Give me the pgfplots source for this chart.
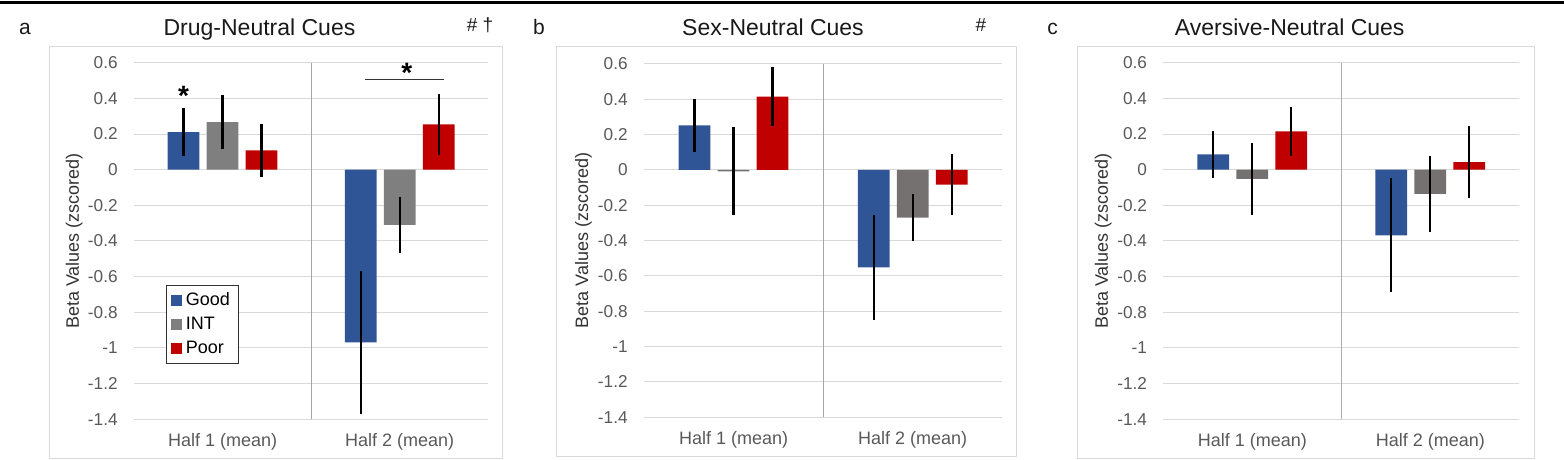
\documentclass[border=0pt]{standalone}
\usepackage{fontspec}
\setmainfont{Liberation Sans}
\usepackage{pgfplots}
\usepackage{pgfplotstable}
\pgfplotsset{compat=1.18}
\definecolor{cGood}{HTML}{2F5597}
\definecolor{cInt}{HTML}{7F7F7F}
\definecolor{cIntB}{HTML}{767171}
\definecolor{cPoor}{HTML}{C00000}
\definecolor{cGrid}{HTML}{D9D9D9}
\definecolor{cTick}{HTML}{595959}
\definecolor{cLab}{HTML}{333333}
\definecolor{cDiv}{HTML}{A6A6A6}

% x = category (0 = Half 1, 1 = Half 2); value and symmetric error
\pgfplotstableread{
x good goode int inte poor poore
0 0.210 0.135 0.267 0.150 0.108 0.148
1 -0.968 0.400 -0.310 0.157 0.254 0.170
}\tabA
\pgfplotstableread{
x good goode int inte poor poore
0 0.253 0.150 -0.008 0.249 0.415 0.167
1 -0.551 0.297 -0.270 0.134 -0.083 0.171
}\tabB
\pgfplotstableread{
x good goode int inte poor poore
0 0.086 0.133 -0.052 0.200 0.215 0.139
1 -0.368 0.319 -0.136 0.212 0.043 0.200
}\tabC

\pgfplotsset{
  panel/.style={
    scale only axis,
    anchor=south west,
    xmin=-0.5, xmax=1.5, ymin=-1.4, ymax=0.6,
    xtick={0,1}, xticklabels={Half 1 (mean),Half 2 (mean)},
    ytick={-1.4,-1.2,-1,-0.8,-0.6,-0.4,-0.2,0,0.2,0.4,0.6},
    yticklabels={-1.4,-1.2,-1,-0.8,-0.6,-0.4,-0.2,0,0.2,0.4,0.6},
    axis line style={draw=none},
    major tick length=0pt,
    tick style={draw=none},
    ymajorgrids, grid style={cGrid, line width=0.5pt},
    tick label style={text=cTick},
    yticklabel style={font=\fontsize{8.6}{10}\selectfont, inner sep=0pt, xshift=-8pt, anchor=east},
    xticklabel style={font=\fontsize{9}{11}\selectfont, inner sep=0pt, anchor=base, yshift=-13.7pt},
    ylabel={Beta Values (zscored)},
    ylabel style={font=\fontsize{9}{11}\selectfont, text=cLab, at={(axis description cs:-0.169,0.5)}, anchor=center},
    ybar, bar width=15.85pt,
    clip=false,
    /pgf/number format/assume math mode=true,
  },
  eb/.style={error bars/.cd, y dir=both, y explicit, error mark=none,
    error bar style={draw=black, line width=1.15pt}},
}

\begin{document}
\begin{tikzpicture}
\useasboundingbox (0,0) rectangle (782pt,230pt);
\fill[black] (0,228pt) rectangle (782pt,229.6pt);
% panel frames
\draw[cGrid, line width=0.5pt] (24.5pt,0.5pt) rectangle (251.15pt,206.65pt);
\draw[cGrid, line width=0.5pt] (278pt,1.5pt) rectangle (508.35pt,206.65pt);
\draw[cGrid, line width=0.5pt] (538.65pt,0.5pt) rectangle (767pt,206.65pt);
% titles and letters
\begin{scope}[every node/.style={anchor=base, inner sep=0pt, text=black!90}]
\node[font=\fontsize{11.5}{13}\selectfont] at (129.75pt,212pt) {Drug-Neutral Cues};
\node[font=\fontsize{11.5}{13}\selectfont] at (386.5pt,212pt) {Sex-Neutral Cues};
\node[font=\fontsize{11.5}{13}\selectfont] at (644.85pt,212pt) {Aversive-Neutral Cues};
\node[font=\fontsize{10.5}{12}\selectfont] at (12.5pt,212.5pt) {a};
\node[font=\fontsize{10.5}{12}\selectfont] at (269.5pt,212.5pt) {b};
\node[font=\fontsize{10.5}{12}\selectfont] at (526.35pt,212.5pt) {c};
\node[font=\fontsize{9.5}{11}\selectfont] at (240pt,214pt) {\# †};
\node[font=\fontsize{9.5}{11}\selectfont] at (490.5pt,214pt) {\#};
\end{scope}

% ---------- panel a ----------
\begin{axis}[panel, at={(67pt,20.35pt)}, width=177.15pt, height=178.3pt,
  legend style={at={(0.09,0.377)}, anchor=north west, draw=cLab, line width=0.6pt,
    font=\fontsize{9}{10.5}\selectfont, inner xsep=2.2pt, inner ysep=1.5pt, row sep=0.3pt},
  legend cell align=left,
  legend image code/.code={\fill[#1] (0pt,-2.75pt) rectangle (5.5pt,2.75pt);},
  ]
\draw[cDiv, line width=0.5pt] (axis cs:0.5,-1.4) -- (axis cs:0.5,0.6);
\addplot[fill=cGood, draw=none, bar shift=-19.5pt, eb] table[x=x, y=good, y error=goode] {\tabA};
\addplot[fill=cInt, draw=none, bar shift=0pt, eb] table[x=x, y=int, y error=inte] {\tabA};
\addplot[fill=cPoor, draw=none, bar shift=19.5pt, eb] table[x=x, y=poor, y error=poore] {\tabA};
\legend{Good,INT,Poor}
\node[font=\bfseries\fontsize{14}{14}\selectfont, inner sep=0pt, yshift=-3pt] at (axis cs:-0.22,0.447) {*};
\draw[cLab, line width=0.5pt] (axis cs:0.805,0.503) -- (axis cs:1.25,0.503);
\node[font=\bfseries\fontsize{14}{14}\selectfont, inner sep=0pt, yshift=-3pt] at (axis cs:1.04,0.578) {*};
\end{axis}

% ---------- panel b ----------
\begin{axis}[panel, at={(322pt,21.35pt)}, width=179.15pt, height=176.65pt]
\draw[cDiv, line width=0.5pt] (axis cs:0.5,-1.4) -- (axis cs:0.5,0.6);
\addplot[fill=cGood, draw=none, bar shift=-19.5pt, eb] table[x=x, y=good, y error=goode] {\tabB};
\addplot[fill=cIntB, draw=none, bar shift=0pt, eb] table[x=x, y=int, y error=inte] {\tabB};
\addplot[fill=cPoor, draw=none, bar shift=19.5pt, eb] table[x=x, y=poor, y error=poore] {\tabB};
\end{axis}

% ---------- panel c ----------
\begin{axis}[panel, at={(581.65pt,20.35pt)}, width=178pt, height=178.3pt]
\draw[cGrid!80!black, line width=0.75pt] (axis cs:0.5,-1.4) -- (axis cs:0.5,0.6);
\addplot[fill=cGood, draw=none, bar shift=-19.5pt, eb] table[x=x, y=good, y error=goode] {\tabC};
\addplot[fill=cIntB, draw=none, bar shift=0pt, eb] table[x=x, y=int, y error=inte] {\tabC};
\addplot[fill=cPoor, draw=none, bar shift=19.5pt, eb] table[x=x, y=poor, y error=poore] {\tabC};
\end{axis}
\end{tikzpicture}
\end{document}
